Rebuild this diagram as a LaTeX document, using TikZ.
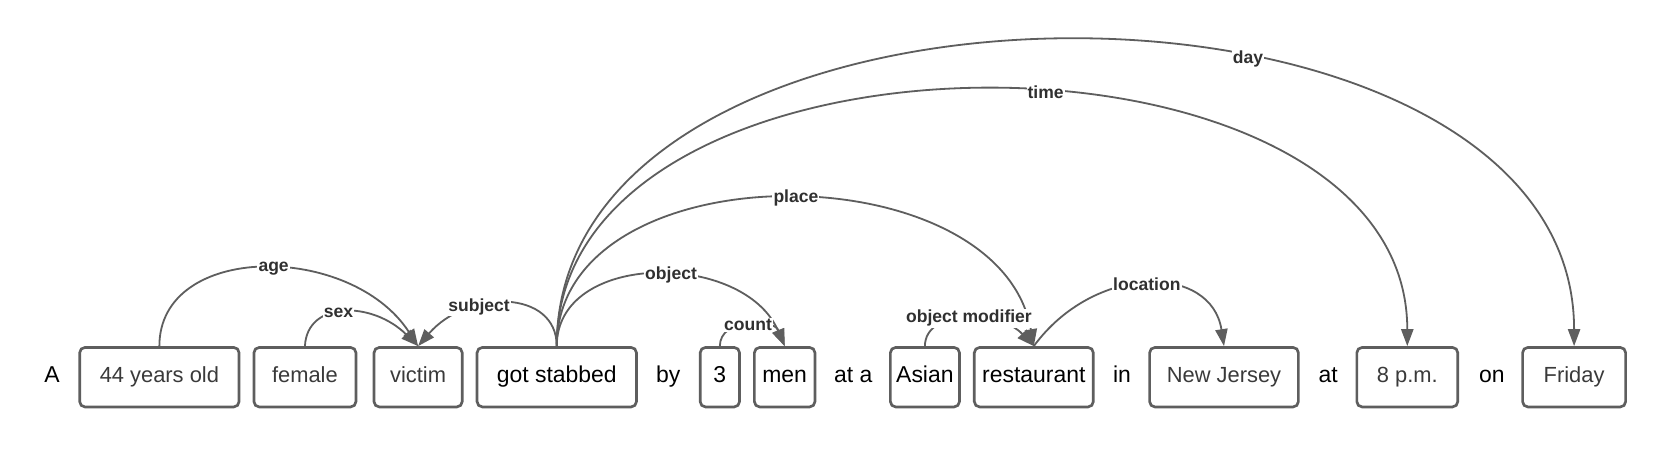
\documentclass[tikz,border=0pt]{standalone}
\usepackage{fontspec}
\setmainfont{Liberation Sans}
\usetikzlibrary{arrows.meta}
\definecolor{lineg}{HTML}{5E5E5E}
\definecolor{textg}{HTML}{3A3A3A}
\definecolor{labelg}{HTML}{303030}
\begin{document}
\begin{tikzpicture}[x=1pt,y=-1pt,
  wordbox/.style={draw=lineg, line width=2.5pt, rounded corners=5pt, minimum height=56pt, inner sep=0pt,
    text height=15pt, text depth=4.5pt},
  graytext/.style={text=textg, font=\fontsize{20.6}{24}\selectfont},
  blacktext/.style={text=black, font=\fontsize{21.6}{25}\selectfont},
  plainword/.style={text=black, font=\fontsize{21.6}{25}\selectfont, inner sep=0pt,
    text height=15pt, text depth=4.5pt},
  rel/.style={draw=lineg, line width=1.7pt, -{Triangle[length=16pt,width=11.5pt]}},
  rellabel/.style={fill=white, text=labelg, font=\fontsize{16.5}{18}\selectfont\bfseries, inner sep=1pt},
]
\useasboundingbox (0,0) rectangle (1568,422);
\fill[white] (0,0) rectangle (1568,422);

% plain words
\node[plainword] (wA)   at (49,355)  {A};
\node[plainword] (wby)  at (629,355) {by};
\node[plainword] (wata) at (803,355) {at a};
\node[plainword] (win)  at (1056,355) {in};
\node[plainword] (wat)  at (1250,355) {at};
\node[plainword] (won)  at (1404,355) {on};

% boxes
\node[wordbox, graytext, minimum width=150pt] (n44)  at (150,355)   {44 years old};
\node[wordbox, graytext, minimum width=96pt]  (fem)  at (287,355)   {female};
\node[wordbox, graytext, minimum width=83pt]  (vic)  at (393.5,355) {victim};
\node[wordbox, blacktext, minimum width=150pt] (gs)  at (524,355)   {got stabbed};
\node[wordbox, blacktext, minimum width=37pt] (three) at (677.5,355) {3};
\node[wordbox, blacktext, minimum width=57pt] (men)  at (738.5,355) {men};
\node[wordbox, blacktext, minimum width=65pt] (asian) at (870.5,355) {Asian};
\node[wordbox, blacktext, minimum width=112pt] (rest) at (973,355)  {restaurant};
\node[wordbox, graytext, minimum width=140pt] (nj)   at (1152,355)  {New Jersey};
\node[wordbox, graytext, minimum width=95pt]  (pm)   at (1324.5,355) {8 p.m.};
\node[wordbox, graytext, minimum width=97pt]  (fri)  at (1481.5,355) {Friday};

% relations
\draw[rel] (n44.north) .. controls (150,228) and (330,228) .. (vic.north)
  node[rellabel, pos=0.53] {age};
\draw[rel] (fem.north) .. controls (289,283) and (350,283) .. (vic.north)
  node[rellabel, pos=0.45] {sex};
\draw[rel] (gs.north) .. controls (524,272) and (440,272) .. (vic.north)
  node[rellabel, pos=0.65] {subject};
\draw[rel] (gs.north) .. controls (524,236) and (700,236) .. (men.north)
  node[rellabel, pos=0.55] {object};
\draw[rel] (three.north) .. controls (677.5,299) and (728,299) .. (men.north)
  node[rellabel, pos=0.5] {count};
\draw[rel] (gs.north) .. controls (524,140) and (940,140) .. (rest.north)
  node[rellabel, pos=0.52] {place};
\draw[rel] (asian.north) .. controls (870.5,291) and (940,291) .. (rest.north)
  node[rellabel, pos=0.52] {object modifier};
\draw[rel] (rest.north) .. controls (1030,248) and (1140,248) .. (nj.north)
  node[rellabel, pos=0.5] {location};
\draw[rel] (gs.north) .. controls (524,4) and (1324.5,4) .. (pm.north)
  node[rellabel, pos=0.55] {time};
\draw[rel] (gs.north) .. controls (524,-58) and (1481.5,-58) .. (fri.north)
  node[rellabel, pos=0.622] {day};
\end{tikzpicture}
\end{document}
